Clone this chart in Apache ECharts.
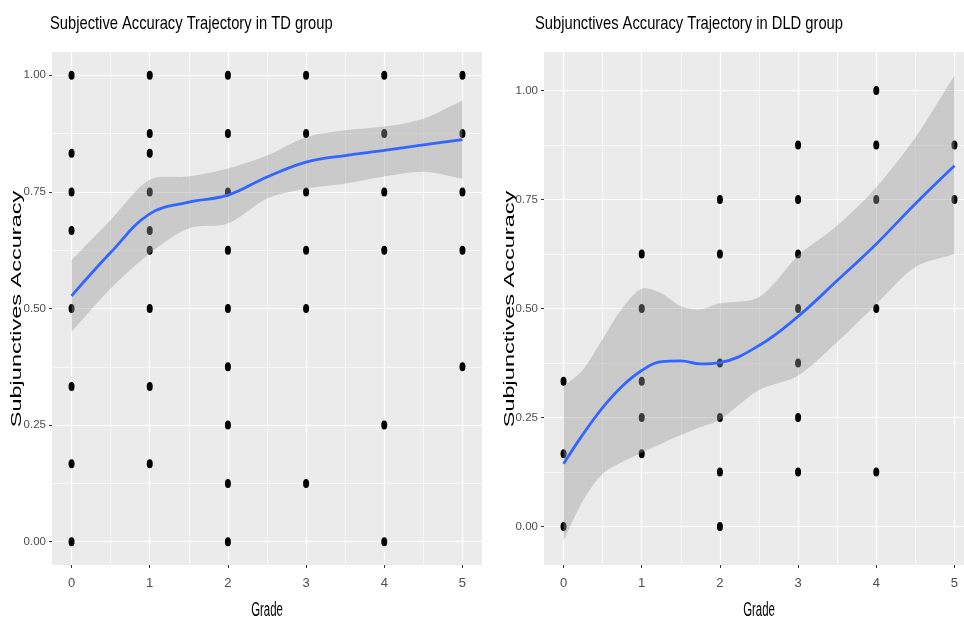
<!DOCTYPE html>
<html>
<head>
<meta charset="utf-8">
<script src="https://cdn.jsdelivr.net/npm/echarts@6/dist/echarts.min.js"></script>
<style>
html,body{margin:0;padding:0;background:#fff;}
#chart{width:964px;height:621px;}
</style>
</head>
<body>
<div id="chart"></div>
<script>
// ---------- tick values ----------
const xTicks = [0, 1, 2, 3, 4, 5];
const xMinorTicks = [0.5, 1.5, 2.5, 3.5, 4.5];
const yTicks = [0, 0.25, 0.5, 0.75, 1];
const yMinorTicks = [0.125, 0.375, 0.625, 0.875];

// ---------- TD group: observed points ----------
const tdGrade = [0,0,0,0,0,0,0,0, 1,1,1,1,1,1,1,1,1, 2,2,2,2,2,2,2,2,2, 3,3,3,3,3,3, 4,4,4,4,4,4, 5,5,5,5,5];
const tdAcc   = [1,0.833,0.75,0.667,0.5,0.333,0.167,0,
                 1,0.875,0.833,0.75,0.667,0.625,0.5,0.333,0.167,
                 1,0.875,0.75,0.625,0.5,0.375,0.25,0.125,0,
                 1,0.875,0.75,0.625,0.5,0.125,
                 1,0.875,0.75,0.625,0.25,0,
                 1,0.875,0.75,0.625,0.375];
// TD smoother
const tdFitX     = [0, 0.5, 1, 1.5, 2, 2.5, 3, 3.5, 4, 4.5, 5];
const tdFitY     = [0.527, 0.62, 0.703, 0.728, 0.743, 0.782, 0.814, 0.828, 0.839, 0.851, 0.862];
const tdFitUpper = [0.604, 0.69, 0.776, 0.783, 0.80, 0.828, 0.867, 0.882, 0.89, 0.907, 0.946];
const tdFitLower = [0.45, 0.543, 0.618, 0.672, 0.682, 0.736, 0.757, 0.768, 0.783, 0.793, 0.778];

// ---------- DLD group: observed points ----------
const dldGrade = [0,0,0, 1,1,1,1,1, 2,2,2,2,2,2, 3,3,3,3,3,3,3, 4,4,4,4,4, 5,5];
const dldAcc   = [0.333,0.167,0,
                  0.625,0.5,0.333,0.25,0.167,
                  0.75,0.625,0.375,0.25,0.125,0,
                  0.875,0.75,0.625,0.5,0.375,0.25,0.125,
                  1,0.875,0.75,0.5,0.125,
                  0.875,0.75];
// DLD smoother
const dldFitX     = [0, 0.25, 0.5, 0.75, 1, 1.25, 1.5, 1.75, 2, 2.5, 3, 3.5, 4, 4.5, 5];
const dldFitY     = [0.144, 0.212, 0.273, 0.322, 0.358, 0.378, 0.38, 0.373, 0.376, 0.415, 0.482, 0.564, 0.648, 0.74, 0.827];
const dldFitUpper = [0.321, 0.36, 0.43, 0.50, 0.545, 0.535, 0.505, 0.498, 0.512, 0.526, 0.621, 0.69, 0.778, 0.892, 1.034];
const dldFitLower = [-0.032, 0.06, 0.121, 0.148, 0.17, 0.19, 0.21, 0.228, 0.245, 0.313, 0.346, 0.423, 0.51, 0.595, 0.625];

const titles = ['Subjective Accuracy Trajectory in TD group', 'Subjunctives Accuracy Trajectory in DLD group'];
const xName = 'Grade';
const yName = 'Subjunctives Accuracy';

// ---------- helpers ----------
const FONT = '"Liberation Sans", Arial, sans-serif';
const zip = (a, b) => a.map((v, i) => [v, b[i]]);
const ellipse = 'path://M0 5A5 5 0 1 1 10 5A5 5 0 1 1 0 5Z';

function mainX(grid, min, max) {
  return {
    type: 'value', gridIndex: grid, min: min, max: max,
    axisLine: {show: false, onZero: false},
    axisTick: {show: true, length: 3, customValues: xTicks, lineStyle: {color: '#333', width: 1}},
    axisLabel: {customValues: xTicks, color: '#4D4D4D', fontFamily: FONT, fontSize: 13, margin: 12,
                formatter: v => String(v)},
    splitLine: {show: true, lineStyle: {color: '#fff', width: 1.2}}
  };
}
function minorX(grid, min, max) {
  return {
    type: 'value', gridIndex: grid, min: min, max: max, position: 'bottom',
    axisLine: {show: false, onZero: false}, axisLabel: {show: false},
    axisTick: {show: false, customValues: xMinorTicks},
    splitLine: {show: true, lineStyle: {color: '#fff', width: 0.6}}
  };
}
function mainY(grid, min, max) {
  return {
    type: 'value', gridIndex: grid, min: min, max: max,
    axisLine: {show: false, onZero: false},
    axisTick: {show: true, length: 3, customValues: yTicks, lineStyle: {color: '#333', width: 1}},
    axisLabel: {customValues: yTicks, color: '#4D4D4D', fontFamily: FONT, fontSize: 11.5, margin: 6,
                formatter: v => v.toFixed(2)},
    splitLine: {show: true, lineStyle: {color: '#fff', width: 1.2}}
  };
}
function minorY(grid, min, max) {
  return {
    type: 'value', gridIndex: grid, min: min, max: max, position: 'left',
    axisLine: {show: false, onZero: false}, axisLabel: {show: false},
    axisTick: {show: false, customValues: yMinorTicks},
    splitLine: {show: true, lineStyle: {color: '#fff', width: 0.6}}
  };
}
function groupSeries(idx, gx, gy, fx, fy, up, lo) {
  const ax = idx * 2;
  return [
    {type: 'scatter', xAxisIndex: ax, yAxisIndex: ax, data: zip(gx, gy),
     symbol: ellipse, symbolSize: [6, 9], itemStyle: {color: '#000', opacity: 1}, z: 2, silent: true},
    {type: 'custom', xAxisIndex: ax, yAxisIndex: ax, coordinateSystem: 'cartesian2d',
     data: fx.map((x, i) => [x, up[i], lo[i]]),
     encode: {x: 0, y: [1, 2]},
     z: 3, silent: true,
     renderItem: function (params, api) {
       if (params.dataIndex !== 0) return null;
       const top = fx.map((x, i) => api.coord([x, up[i]]));
       const bot = fx.map((x, i) => api.coord([x, lo[i]])).reverse();
       const pts = [top[0]].concat(top, [top[top.length - 1]], [bot[0]], bot, [bot[bot.length - 1]]);
       return {type: 'polygon', shape: {points: pts, smooth: 0.3},
               style: {fill: 'rgba(153,153,153,0.4)'}};
     }},
    {type: 'line', xAxisIndex: ax, yAxisIndex: ax, data: zip(fx, fy), smooth: 0.4, symbol: 'none',
     lineStyle: {color: '#3366FF', width: 2.8}, z: 4, silent: true}
  ];
}

function textEl(str, x, y, size, sx, sy, align, rot) {
  return {type: 'text', x: x, y: y, rotation: rot || 0, scaleX: sx, scaleY: sy, silent: true,
          style: {text: str, font: size + 'px ' + FONT, fill: '#000', align: align, verticalAlign: 'middle'}};
}

const chart = echarts.init(document.getElementById('chart'), null, {renderer: 'canvas'});
chart.setOption({
  animation: false,
  backgroundColor: '#fff',
  grid: [
    {left: 52, top: 52, width: 430, height: 513, show: true, backgroundColor: '#EBEBEB', borderWidth: 0, outerBoundsMode: 'none'},
    {left: 544, top: 52, width: 430, height: 513, show: true, backgroundColor: '#EBEBEB', borderWidth: 0, outerBoundsMode: 'none'}
  ],
  xAxis: [mainX(0, -0.25, 5.25), minorX(0, -0.25, 5.25), mainX(1, -0.25, 5.25), minorX(1, -0.25, 5.25)],
  yAxis: [mainY(0, -0.05, 1.05), minorY(0, -0.05, 1.05), mainY(1, -0.088, 1.088), minorY(1, -0.088, 1.088)],
  graphic: [
    textEl(titles[0], 50, 24, 19, 0.775, 1, 'left'),
    textEl(titles[1], 535, 24, 19, 0.775, 1, 'left'),
    textEl(xName, 267, 610, 20, 0.57, 1, 'center'),
    textEl(xName, 759, 610, 20, 0.57, 1, 'center'),
    textEl(yName, 17.5, 309, 23.5, 1, 0.6, 'center', Math.PI / 2),
    textEl(yName, 510, 309, 23.5, 1, 0.6, 'center', Math.PI / 2)
  ],
  series: [].concat(
    groupSeries(0, tdGrade, tdAcc, tdFitX, tdFitY, tdFitUpper, tdFitLower),
    groupSeries(1, dldGrade, dldAcc, dldFitX, dldFitY, dldFitUpper, dldFitLower)
  )
});
</script>
</body>
</html>
